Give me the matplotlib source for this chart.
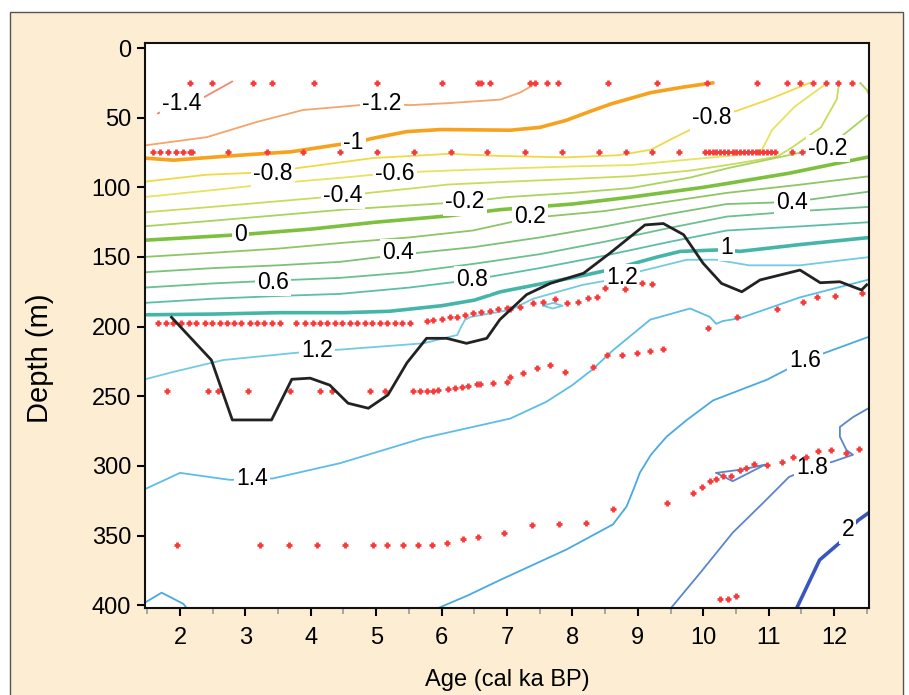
"""Temperature section: contoured values vs age and depth, with sample points."""

import matplotlib.pyplot as plt
import matplotlib.ticker as ticker
from matplotlib.patches import Rectangle

plt.rcParams["font.family"] = ["Liberation Sans", "DejaVu Sans"]

# Contour lines: age (cal ka BP) and depth (m) per level.
age_m14 = [1.66, 2.0, 2.38, 2.8]
dep_m14 = [47, 40, 35, 24]
age_m12 = [1.45, 2.41, 3.18, 3.88, 4.75, 5.09, 5.52, 6.13, 6.9, 7.2, 7.46]
dep_m12 = [70, 64, 53, 44.5, 41, 40, 41, 39.5, 37, 32, 25]
age_m10 = [1.45, 1.9, 2.9, 3.7, 4.4, 4.65, 4.98, 5.47, 6.0, 7.05, 7.5, 7.9, 8.3, 8.6, 9.2, 9.7, 10.15]
dep_m10 = [79, 80.5, 77, 74.5, 69.5, 68, 64.5, 60, 58.5, 59, 57, 52, 45, 40, 32, 28, 25]
age_m08 = [1.45, 2.4, 3.42, 3.83, 4.95, 6.1, 6.9, 7.9, 8.7, 9.2, 9.55, 9.9, 10.13, 10.52, 11.0, 11.63]
dep_m08 = [96, 91, 89, 86, 79, 76, 77.5, 78.5, 77, 73, 64.5, 56.5, 50, 45, 37, 25]
age_m06 = [1.45, 2.5, 3.5, 4.5, 5.29, 6.1, 7.0, 8.0, 8.9, 9.8, 10.5, 10.9, 11.05, 11.4, 11.9]
dep_m06 = [107, 102, 97, 93, 89.5, 88, 86.5, 85, 84, 80, 77, 73, 59, 42, 25]
age_m04 = [1.45, 2.5, 3.5, 4.49, 5.5, 6.1, 7.0, 8.0, 8.9, 9.8, 10.5, 11.13, 11.37, 11.8, 12.04, 12.08]
dep_m04 = [118, 114, 110, 106, 101, 98, 96, 94, 92, 88, 83, 78, 71, 57, 37, 25]
age_m02 = [1.45, 2.5, 3.5, 4.5, 5.5, 6.36, 7.0, 8.0, 8.9, 9.8, 10.4, 11.0, 11.6, 11.91, 12.1, 12.55]
dep_m02 = [128, 124, 120, 116, 113, 110.5, 107, 104, 100.5, 93, 86, 80, 74, 71, 64, 47]
age_m02b = [12.4, 12.5, 12.55]
dep_m02b = [25, 30, 35]
age_p00 = [1.45, 2.92, 4.0, 5.0, 6.1, 6.9, 8.0, 8.9, 10.0, 10.4, 11.3, 12.55]
dep_p00 = [138, 134, 130, 125, 120.5, 116, 112, 107, 100, 97, 90, 78]
age_p02 = [1.45, 2.5, 3.5, 4.45, 5.5, 6.48, 7.35, 8.5, 9.5, 10.36, 11.5, 12.55]
dep_p02 = [150, 147, 144, 140, 136, 131, 122, 117, 110, 104, 98, 92]
age_p04 = [1.45, 2.5, 3.5, 4.45, 5.33, 6.48, 7.5, 8.5, 9.5, 10.36, 11.36, 12.55]
dep_p04 = [161, 158, 156, 153.5, 148.5, 143, 136, 128, 119, 112, 110.5, 103]
age_p06 = [1.45, 2.5, 3.42, 4.45, 5.5, 6.48, 7.5, 8.5, 9.5, 10.36, 11.5, 12.55]
dep_p06 = [172, 169, 167, 165, 161, 155, 148, 139, 129, 121, 117, 114]
age_p08 = [1.45, 2.5, 3.5, 4.45, 5.5, 6.46, 7.5, 8.5, 9.5, 10.36, 11.5, 12.55]
dep_p08 = [183, 180, 178, 176.5, 172, 166.5, 158, 149, 139, 131, 128, 125]
age_p10 = [1.5, 2.5, 3.5, 4.5, 5.2, 6.0, 6.5, 6.9, 7.66, 8.2, 8.68, 9.3, 9.65, 10.2, 10.36, 10.56, 11.5, 12.55]
dep_p10 = [191.5, 191, 190, 190, 189, 185, 181, 175, 168, 163, 158, 150, 146, 145, 145, 146, 141, 136]
age_p12 = [1.45, 1.9, 2.66, 3.73, 4.09, 4.45, 5.72, 6.24, 6.3, 6.36, 6.45, 7.05, 7.4, 8.16, 8.76, 8.93,
           9.75, 10.2, 10.7, 11.48, 12.55]
dep_p12 = [238, 232.5, 224, 219, 217.5, 216.5, 212, 206, 200, 195, 193, 188, 180, 170, 165, 161.5,
           152, 152, 156, 156, 150]
age_p12b = [7.55, 7.7, 7.85, 7.7, 7.55]
dep_p12b = [185, 183, 185, 187, 185]
age_p14 = [1.45, 2.0, 2.76, 3.1, 3.42, 4.45, 5.72, 7.05, 7.6, 8.0, 8.3, 8.62, 9.19, 9.8, 10.1, 10.2,
           10.3, 10.56, 11.48, 12.55]
dep_p14 = [317, 305, 310, 309.5, 309, 298, 280, 266, 254, 242, 231, 217, 195, 187, 193, 198,
           196, 194, 179, 166]
age_p16 = [5.9, 6.4, 6.89, 7.91, 8.62, 8.83, 8.95, 9.03, 9.2, 9.44, 9.75, 10.15, 10.98, 11.56, 12.55]
dep_p16 = [403, 393, 382, 360, 342, 329, 315, 305, 292, 279, 267, 253, 238, 224, 207]
age_p16b = [1.47, 1.72, 2.05, 2.12]
dep_p16b = [398, 391, 399, 403]
age_p18 = [9.49, 9.95, 10.45, 10.96, 11.31, 11.66, 11.98, 12.29, 12.19, 12.09, 12.09, 12.29, 12.55]
dep_p18 = [403, 377, 348, 324.5, 308, 301, 297, 292, 288.6, 279, 272, 265, 258]
age_p18b = [10.2, 10.45, 10.95, 10.6, 10.2]
dep_p18b = [305, 311, 299, 302.5, 305]
age_p20 = [11.42, 11.78, 12.09, 12.21, 12.37, 12.55]
dep_p20 = [403, 367.5, 355, 346, 339, 333]

# Inline contour labels.
label_text = ["-1.4", "-1.2", "-1", "-0.8", "-0.6", "-0.4", "-0.2", "0", "0.2", "0.4", "0.6",
              "0.8", "1", "1.2", "1.2", "1.4", "1.6", "1.8", "2", "-0.8", "-0.2", "0.4"]
label_age = [2.03, 5.09, 4.65, 3.42, 5.29, 4.49, 6.36, 2.92, 7.35, 5.33, 3.42,
             6.46, 10.36, 4.09, 8.76, 3.1, 11.56, 11.66, 12.21, 10.13, 11.91, 11.36]
label_depth = [39.5, 39.5, 68, 90, 90, 106, 110.5, 134, 121, 147, 168,
               166.5, 143, 217, 165, 309, 224, 301, 346, 50, 72, 111]

# Sample positions (red points).
row25_age = [2.15, 2.49, 3.12, 3.41, 4.05, 5.01, 6.0, 6.55, 6.6, 6.74, 7.35, 7.43, 7.61, 7.78,
             8.54, 9.29, 10.06, 10.82, 11.28, 11.48, 11.68, 11.88, 12.06, 12.28]
row25_depth = 25
row75_age = [1.59, 1.69, 1.82, 1.94, 2.05, 2.15, 2.18, 2.73, 3.33, 3.88, 4.45, 5.01, 5.58, 6.14,
             6.69, 7.28, 7.84, 8.41, 8.82, 9.22, 9.63, 10.03, 10.09, 10.15, 10.2, 10.26, 10.32,
             10.38, 10.45, 10.5, 10.56, 10.62, 10.68, 10.74, 10.8, 10.86, 10.92, 10.98, 11.04,
             11.1, 11.36, 11.51]
row75_depth = 75
row197_age = [1.67, 1.78, 1.89, 2.02, 2.14, 2.25, 2.38, 2.49, 2.61, 2.72, 2.83, 2.94, 3.07, 3.18,
              3.29, 3.41, 3.53, 3.78, 3.91, 4.03, 4.14, 4.25, 4.37, 4.48, 4.6, 4.71, 4.83, 4.94,
              5.06, 5.17, 5.29, 5.4, 5.52]
row197_depth = 197.5
rise1_age = [5.77, 5.87, 6.0, 6.13, 6.23, 6.36, 6.48, 6.61, 6.74, 6.86, 7.0, 7.04, 7.2, 7.4, 7.55,
             7.73, 7.91, 8.08, 8.24, 8.37, 8.5, 8.8, 9.06, 9.22]
rise1_depth = [195.7, 195.3, 194.3, 193.3, 192.9, 191.7, 190.5, 189.3, 188.6, 187.6, 186.6, 187,
               185.8, 183.2, 182, 180, 183, 182, 179.5, 179, 172.5, 173, 168.5, 169.5]
rise2_age = [10.07, 10.52, 11.13, 11.53, 11.74, 12.02, 12.43]
rise2_depth = [201, 193, 187, 182, 179, 178, 176]
row247_age = [1.8, 2.43, 2.58, 3.04, 3.68, 4.14, 4.32, 4.9, 5.13, 5.56, 5.67, 5.77, 5.87, 5.94,
              6.1, 6.2, 6.31, 6.4, 6.54, 6.59, 6.79, 7.0, 7.05, 7.24, 7.46, 7.66, 7.89, 8.31,
              8.53, 8.76, 8.99, 9.19, 9.39]
row247_depth = [246.5, 246.5, 246.5, 246.5, 246.5, 246.5, 246.5, 246.5, 246.5, 246.5, 246.5,
                246.5, 246, 245.5, 244.5, 244, 243.5, 242.5, 241.5, 241, 240.5, 239.5, 236,
                233.5, 230, 227.6, 232.4, 228.8, 220.4, 220.4, 219, 217.3, 216.3]
row357_age = [1.95, 3.23, 3.67, 4.09, 4.52, 4.95, 5.17, 5.41, 5.64, 5.86, 6.09, 6.32, 6.55, 6.96,
              7.38, 7.8, 8.21, 8.62, 9.44, 9.85, 9.98, 10.1, 10.2, 10.3, 10.43, 10.56, 10.66,
              10.77, 10.97, 11.2, 11.37, 11.57, 11.76, 11.96, 12.19, 12.38]
row357_depth = [357, 357, 357, 357, 357, 357, 357, 357, 357, 357, 355, 352.7, 351.3, 348.4,
                342.4, 341.7, 340.8, 331.2, 326.9, 319.3, 315, 310.9, 309.2, 307.3, 307.3, 303,
                301.8, 298.7, 299.4, 297, 293.5, 293.5, 289.2, 288.7, 290.6, 287.5]
bottom_age = [10.26, 10.38, 10.5]
bottom_depth = [395.8, 395.8, 393.4]

# Black depth curve.
curve_age = [1.87, 2.48, 2.8, 3.4, 3.71, 3.99, 4.29, 4.57, 4.88, 5.18, 5.47, 5.77, 6.08, 6.38,
             6.69, 6.89, 7.3, 7.66, 8.17, 8.57, 9.11, 9.39, 9.7, 10.0, 10.28, 10.59, 10.87,
             11.48, 11.79, 12.09, 12.29, 12.42, 12.5]
curve_depth = [193.3, 224, 267, 267, 237.8, 237, 242, 255, 258.6, 249, 226, 208.4, 208.4, 212,
               208.4, 195, 177, 169, 161.7, 147.4, 127, 126, 134, 154.6, 169, 175, 166.5,
               159.4, 168.5, 167.8, 171.4, 173.7, 170]

# Table of lines: (level, ages, depths).
contours = [
    (-1.4, age_m14, dep_m14), (-1.2, age_m12, dep_m12), (-1.0, age_m10, dep_m10),
    (-0.8, age_m08, dep_m08), (-0.6, age_m06, dep_m06), (-0.4, age_m04, dep_m04),
    (-0.2, age_m02, dep_m02), (-0.2, age_m02b, dep_m02b), (0.0, age_p00, dep_p00),
    (0.2, age_p02, dep_p02), (0.4, age_p04, dep_p04), (0.6, age_p06, dep_p06),
    (0.8, age_p08, dep_p08), (1.0, age_p10, dep_p10), (1.2, age_p12, dep_p12),
    (1.2, age_p12b, dep_p12b), (1.4, age_p14, dep_p14), (1.6, age_p16, dep_p16),
    (1.6, age_p16b, dep_p16b), (1.8, age_p18, dep_p18), (1.8, age_p18b, dep_p18b),
    (2.0, age_p20, dep_p20),
]
level_colors = {
    -1.4: "#f08872", -1.2: "#f5a46c", -1.0: "#f7a11c", -0.8: "#f1d946",
    -0.6: "#e6e35c", -0.4: "#c8dc5a", -0.2: "#a9d35c", 0.0: "#7dc03e",
    0.2: "#8dc663", 0.4: "#7bc178", 0.6: "#6ac08e", 0.8: "#5bbfa6",
    1.0: "#44b5a8", 1.2: "#72cbe2", 1.4: "#5cbde6", 1.6: "#49aae0",
    1.8: "#5a86cc", 2.0: "#3956bd",
}

fig = plt.figure(figsize=(9.09, 6.95), dpi=100)
panel = Rectangle((10 / 909, -0.01), 893 / 909, 1 - 12 / 695 + 0.01,
                  transform=fig.transFigure, facecolor="#fdeed3",
                  edgecolor="#555555", linewidth=1.0, zorder=-10)
fig.patches.append(panel)
ax = fig.add_axes([145 / 909, 1 - 608 / 695, 724 / 909, 565 / 695])
ax.set_zorder(1)
ax.set_facecolor("white")

for level, ages, depths in contours:
    thick = abs(level - round(level)) < 1e-6
    ax.plot(ages, depths, color=level_colors[level], linewidth=2.6 if thick else 1.3,
            solid_capstyle="round", zorder=2)

for text, a, d in zip(label_text, label_age, label_depth):
    ax.text(a, d, text, ha="center", va="center", fontsize=16.5, zorder=4,
            bbox=dict(facecolor="white", edgecolor="none", pad=1.5))

dot_style = dict(linestyle="none", marker="+", markersize=5, markeredgewidth=2.0,
                 color="#f53b3b", zorder=5)
ax.plot(row25_age, [row25_depth] * len(row25_age), **dot_style)
ax.plot(row75_age, [row75_depth] * len(row75_age), **dot_style)
ax.plot(row197_age, [row197_depth] * len(row197_age), **dot_style)
ax.plot(rise1_age, rise1_depth, **dot_style)
ax.plot(rise2_age, rise2_depth, **dot_style)
ax.plot(row247_age, row247_depth, **dot_style)
ax.plot(row357_age, row357_depth, **dot_style)
ax.plot(bottom_age, bottom_depth, **dot_style)

ax.plot(curve_age, curve_depth, color="#222222", linewidth=2.0, zorder=6)

# Format.
ax.set_xlim(1.465, 12.535)
ax.set_ylim(402, -3.6)
ax.set_xticks(range(2, 13))
ax.xaxis.set_minor_locator(ticker.MultipleLocator(0.5))
ax.set_yticks(range(0, 401, 50))
ax.tick_params(which="major", direction="out", length=6, width=1.5, labelsize=17, pad=4)
ax.tick_params(axis="x", which="major", pad=8)
ax.tick_params(which="minor", direction="out", length=4, width=1.2, color="#999999")
for spine in ax.spines.values():
    spine.set_linewidth(1.5)
    spine.set_color("#111111")

fig.text(507 / 909, 1 - 680 / 695, "Age (cal ka BP)", ha="center", va="center", fontsize=17)
fig.text(40 / 909, 1 - 358 / 695, "Depth (m)", ha="center", va="center", rotation=90,
         fontsize=21)

fig.savefig("out.png", dpi=100)
